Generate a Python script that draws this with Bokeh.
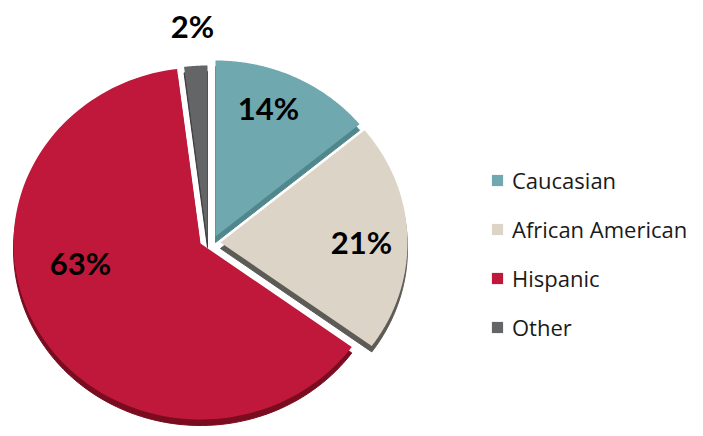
import numpy as np
from bokeh.plotting import figure
from bokeh.models import ColumnDataSource, Legend, LegendItem, Range1d
from bokeh.core.properties import value
from bokeh.embed import file_html
from bokeh.resources import INLINE

# ---- data ----
categories = ["Caucasian", "African American", "Hispanic", "Other"]
percents = [14, 21, 63, 2]

# ---- style ----
colors = ["#6fa8af", "#dcd4c7", "#c0183a", "#646567"]
side_colors = ["#4f878d", "#5d5b56", "#7a0c20", "#3c3c3e"]
# slice vertex offsets (px) from pie centre, and label offsets (px) from vertex
explode = [(15, 7), (20, 1), (0, 0), (7, 2)]
label_off = [(53, 129), (141, 1), (-120, -19), (-15, 216)]
CX, CY = 200, 436 - 243
RX, RY = 187, 176
DEPTH = 6

W, H = 695, 428
p = figure(width=W, height=H, output_backend="svg", toolbar_location=None,
           x_range=Range1d(0, W), y_range=Range1d(436 - H, 436),
           min_border=0, outline_line_color=None)
p.axis.visible = False
p.grid.visible = False

vals = np.array(percents, dtype=float)
cum = np.concatenate([[0], np.cumsum(vals) / vals.sum()])
xs, ys, sxs, sys_ = [], [], [], []
lx, ly = [], []
for i in range(len(vals)):
    a0 = np.pi / 2 - 2 * np.pi * cum[i]
    a1 = np.pi / 2 - 2 * np.pi * cum[i + 1]
    t = np.linspace(a0, a1, 120)
    vx = CX + explode[i][0]
    vy = CY + explode[i][1]
    px = np.concatenate([[vx], vx + RX * np.cos(t)])
    py = np.concatenate([[vy], vy + RY * np.sin(t)])
    xs.append(list(px)); ys.append(list(py))
    sxs.append(list(px)); sys_.append(list(py - DEPTH))
    lx.append(vx + label_off[i][0]); ly.append(vy + label_off[i][1])

shadow = ColumnDataSource(dict(xs=sxs, ys=sys_, c=side_colors))
main = ColumnDataSource(dict(xs=xs, ys=ys, c=colors, cat=categories))
p.patches("xs", "ys", source=shadow, fill_color="c", line_color="c", line_width=1)
r = p.patches("xs", "ys", source=main, fill_color="c", line_color=None)

labels = ColumnDataSource(dict(x=lx, y=ly, t=[f"{v}%" for v in percents]))
p.text("x", "y", text="t", source=labels, text_align="center", text_baseline="middle",
       text_font=value("Lato"), text_font_style="bold", text_font_size="31px",
       text_color="#000000")

legend = Legend(items=[LegendItem(label=c, renderers=[r], index=i) for i, c in enumerate(categories)],
                location=(490, 86), border_line_color=None, background_fill_alpha=0,
                padding=0, margin=0, glyph_width=14, glyph_height=14, label_height=26,
                spacing=19, label_standoff=8, label_text_font="Open Sans",
                label_text_font_size="22px", label_text_color="#1a1a1a")
p.add_layout(legend)

open("out.html", "w").write(file_html(p, INLINE))
